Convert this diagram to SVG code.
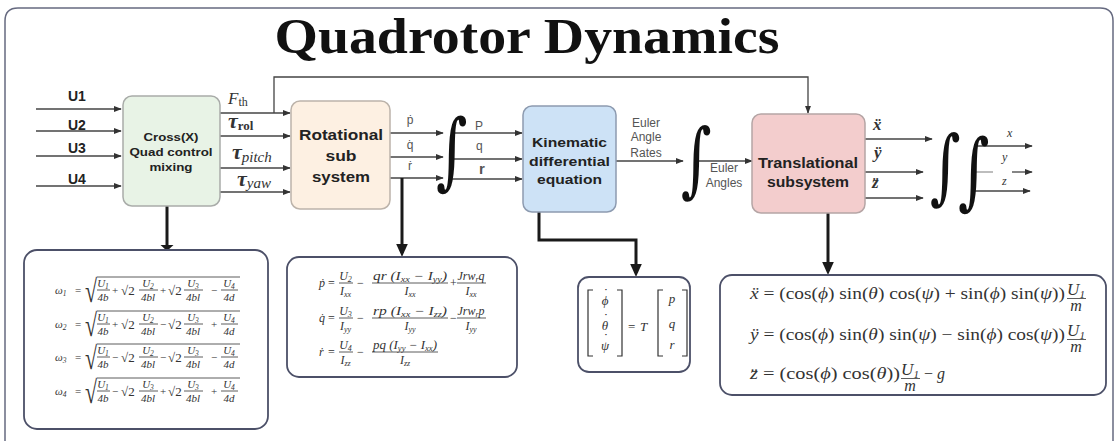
<svg xmlns="http://www.w3.org/2000/svg" width="1116" height="441" viewBox="0 0 1116 441">
<defs>
<marker id="ah" viewBox="0 0 10 10" refX="9" refY="5" markerWidth="8" markerHeight="8" markerUnits="userSpaceOnUse" orient="auto"><path d="M0,1.2 L10,5 L0,8.8 z" fill="#333"/></marker>
<marker id="ahb" viewBox="0 0 10 10" refX="7" refY="5" markerWidth="13" markerHeight="13" markerUnits="userSpaceOnUse" orient="auto"><path d="M0,0.5 L10,5 L0,9.5 z" fill="#1a1a1a"/></marker>
</defs>
<style>
.blk{font-family:"Liberation Sans",Arial,sans-serif;font-weight:bold;fill:#222;text-anchor:middle}
.lab{font-family:"Liberation Sans",Arial,sans-serif;fill:#555}
.mi{font-family:"Liberation Serif","Times New Roman",serif;font-style:italic;fill:#333}
.mr{font-family:"Liberation Serif","Times New Roman",serif;fill:#333}
.thin{stroke:#444;stroke-width:1.3;fill:none}
.thick{stroke:#1a1a1a;stroke-width:3;fill:none}
.eqbox{fill:#fff;stroke:#4c5068;stroke-width:1.8}
.bar{stroke:#333;stroke-width:0.8}
.int{font-family:"DejaVu Serif",serif;fill:#111}
.rad{font-family:"Liberation Serif","Times New Roman",serif;fill:#333;font-size:32px}
</style>
<rect width="1116" height="441" fill="#fff"/>
<path d="M5,446 L5,21 Q5,8 18,8 L1100,8 Q1113,8 1113,21 L1113,446" fill="none" stroke="#666a80" stroke-width="1.5"/>
<text x="527" y="53" font-family="Liberation Serif,'Times New Roman',serif" font-weight="bold" font-size="51" fill="#111" text-anchor="middle" textLength="505" lengthAdjust="spacingAndGlyphs">Quadrotor Dynamics</text>

<g id="connectors">
<line class="thin" x1="36" y1="109" x2="121" y2="109" marker-end="url(#ah)"/>
<line class="thin" x1="36" y1="131" x2="121" y2="131" marker-end="url(#ah)"/>
<line class="thin" x1="36" y1="156" x2="121" y2="156" marker-end="url(#ah)"/>
<line class="thin" x1="36" y1="186" x2="121" y2="186" marker-end="url(#ah)"/>
<line class="thin" x1="220" y1="113" x2="290" y2="113" marker-end="url(#ah)"/>
<line class="thin" x1="220" y1="136" x2="290" y2="136" marker-end="url(#ah)"/>
<line class="thin" x1="220" y1="168" x2="290" y2="168" marker-end="url(#ah)"/>
<line class="thin" x1="218" y1="192" x2="290" y2="192" marker-end="url(#ah)"/>
<path class="thin" d="M274,113 L274,77 L808,77 L808,113" marker-end="url(#ah)"/>
<line class="thin" x1="390" y1="133" x2="443" y2="133" marker-end="url(#ah)"/>
<line class="thin" x1="390" y1="157" x2="443" y2="157" marker-end="url(#ah)"/>
<line class="thin" x1="390" y1="178" x2="443" y2="178" marker-end="url(#ah)"/>
<line class="thin" x1="452" y1="133" x2="522" y2="133" marker-end="url(#ah)"/>
<line class="thin" x1="452" y1="159" x2="522" y2="159" marker-end="url(#ah)"/>
<line class="thin" x1="452" y1="179" x2="522" y2="179" marker-end="url(#ah)"/>
<line class="thin" x1="616" y1="161" x2="683" y2="161" marker-end="url(#ah)"/>
<line class="thin" x1="697" y1="161" x2="752" y2="161" marker-end="url(#ah)"/>
<line class="thin" x1="865" y1="139" x2="932" y2="139" marker-end="url(#ah)"/>
<line class="thin" x1="865" y1="172" x2="923" y2="172" marker-end="url(#ah)"/>
<line class="thin" x1="865" y1="198" x2="923" y2="198" marker-end="url(#ah)"/>
<line class="thin" x1="974" y1="146" x2="1032" y2="146" marker-end="url(#ah)"/>
<line x1="974" y1="172" x2="993" y2="172" stroke="#999" stroke-width="1.3"/>
<line class="thin" x1="1012" y1="172" x2="1032" y2="172" marker-end="url(#ah)"/>
<line class="thin" x1="974" y1="191" x2="1030" y2="191" marker-end="url(#ah)"/>
<line class="thick" x1="167" y1="206" x2="167" y2="246"/>
<path d="M160.5,245 L173.5,245 L167,251 z" fill="#1a1a1a"/>
<line class="thick" x1="402" y1="178" x2="402" y2="253" marker-end="url(#ahb)"/>
<path class="thick" d="M539,212 L539,240 L636,240 L636,273" marker-end="url(#ahb)"/>
<line class="thick" x1="828" y1="213" x2="828" y2="271" marker-end="url(#ahb)"/>
</g>

<g id="inputs">
<text x="68" y="101" class="blk" style="text-anchor:start" font-size="14">U1</text>
<text x="68" y="130" class="blk" style="text-anchor:start" font-size="14">U2</text>
<text x="68" y="153" class="blk" style="text-anchor:start" font-size="14">U3</text>
<text x="68" y="184" class="blk" style="text-anchor:start" font-size="14">U4</text>
</g>

<g id="cross-mixing">
<rect x="123" y="96" width="97" height="110" rx="9" fill="#e8f3e6" stroke="#a9aca9" stroke-width="1.5"/>
<text x="171" y="141" class="blk" font-size="11.5" textLength="55" lengthAdjust="spacingAndGlyphs">Cross(X)</text>
<text x="171" y="156" class="blk" font-size="11.5" textLength="83" lengthAdjust="spacingAndGlyphs">Quad control</text>
<text x="171" y="171" class="blk" font-size="11.5" textLength="43" lengthAdjust="spacingAndGlyphs">mixing</text>
</g>

<g id="torque-labels">
<text x="228" y="104" class="mi" font-size="17" fill="#222">F<tspan class="mr" font-style="normal" font-size="12" dy="2">th</tspan></text>
<text x="228" y="128" class="mi" font-size="22" font-weight="bold" fill="#222">τ<tspan class="mr" font-style="normal" font-size="13" dy="2">rol</tspan></text>
<text x="232" y="159" class="mi" font-size="22" font-weight="bold" fill="#222">τ<tspan font-size="15" font-weight="normal" dy="3">pitch</tspan></text>
<text x="237" y="186" class="mi" font-size="22" font-weight="bold" fill="#222">τ<tspan font-size="15" font-weight="normal" dy="2">yaw</tspan></text>
</g>

<g id="rotational">
<rect x="291" y="101" width="99" height="108" rx="9" fill="#fdf0e2" stroke="#bcb3aa" stroke-width="1.5"/>
<text x="341" y="140" class="blk" font-size="15" textLength="84" lengthAdjust="spacingAndGlyphs">Rotational</text>
<text x="341" y="161" class="blk" font-size="15" textLength="31" lengthAdjust="spacingAndGlyphs">sub</text>
<text x="341" y="182" class="blk" font-size="15" textLength="58" lengthAdjust="spacingAndGlyphs">system</text>
</g>

<g id="rot-labels">
<text x="410" y="124" class="lab" font-size="12" text-anchor="middle">ṗ</text>
<text x="410" y="149" class="lab" font-size="12" text-anchor="middle">q̇</text>
<text x="410" y="170" class="lab" font-size="12" text-anchor="middle">ṙ</text>
<text x="475" y="130" class="lab" font-size="12">P</text>
<text x="476" y="150" class="lab" font-size="12">q</text>
<text x="479" y="174" class="lab" font-size="15" font-weight="bold" fill="#222">r</text>
</g>

<g id="integral-1"><text class="int" font-size="84" transform="translate(436,179) scale(0.72,1)">∫</text></g>

<g id="kinematic">
<rect x="523" y="106" width="93" height="106" rx="9" fill="#cde2f6" stroke="#8d9bb0" stroke-width="1.5"/>
<text x="569.5" y="147" class="blk" font-size="13" textLength="75" lengthAdjust="spacingAndGlyphs">Kinematic</text>
<text x="569.5" y="166" class="blk" font-size="13" textLength="81" lengthAdjust="spacingAndGlyphs">differential</text>
<text x="569.5" y="184" class="blk" font-size="13" textLength="65" lengthAdjust="spacingAndGlyphs">equation</text>
</g>

<g id="euler-labels">
<text x="646" y="127" class="lab" font-size="12" text-anchor="middle">Euler</text>
<text x="646" y="141" class="lab" font-size="12" text-anchor="middle">Angle</text>
<text x="646" y="157" class="lab" font-size="12" text-anchor="middle">Rates</text>
<text x="724" y="172" class="lab" font-size="12" text-anchor="middle">Euler</text>
<text x="724" y="187" class="lab" font-size="12" text-anchor="middle">Angles</text>
</g>

<g id="integral-2"><text class="int" font-size="82" transform="translate(681,187) scale(0.72,1)">∫</text></g>

<g id="translational">
<rect x="752" y="114" width="113" height="99" rx="9" fill="#f3cdcd" stroke="#b5a5a5" stroke-width="1.5"/>
<text x="808" y="168" class="blk" font-size="14" textLength="100" lengthAdjust="spacingAndGlyphs">Translational</text>
<text x="808" y="187" class="blk" font-size="14" textLength="82" lengthAdjust="spacingAndGlyphs">subsystem</text>
</g>

<g id="trans-labels">
<text x="873" y="130" class="mi" font-size="17" font-weight="bold">ẍ</text>
<text x="874" y="158" class="mi" font-size="17" font-weight="bold">ÿ</text>
<text x="872" y="188" class="mi" font-size="17" font-weight="bold">z̈</text>
<text x="1007" y="137" class="mi" font-size="12" fill="#556">x</text>
<text x="1002" y="161" class="mi" font-size="12" fill="#556">y</text>
<text x="1002" y="185" class="mi" font-size="12" fill="#556">z</text>
</g>

<g id="integral-3"><text class="int" font-size="82" transform="translate(930,194) scale(0.72,1)">∫</text><text class="int" font-size="84" transform="translate(958,199) scale(0.72,1)">∫</text></g>

<g id="omega-equations">
<rect class="eqbox" x="24" y="250" width="244" height="179" rx="13"/>
<g font-size="11">
<!-- row 1 axis 290 -->
<text x="55" y="294" class="mi">ω<tspan font-size="7.5" dy="2">1</tspan></text>
<text x="75" y="294" class="mr">=</text>
<text x="85" y="302" class="rad" textLength="12" lengthAdjust="spacingAndGlyphs">√</text>
<line class="bar" x1="97" y1="277" x2="240" y2="277"/>
<text x="103" y="287" class="mi" text-anchor="middle">U<tspan font-size="7.5" dy="2">1</tspan></text>
<line class="bar" x1="97" y1="290" x2="110" y2="290"/>
<text x="103" y="301" class="mi" text-anchor="middle">4b</text>
<text x="112" y="294" class="mr">+</text>
<text x="121" y="295" class="mr" font-size="13">√2</text>
<text x="148" y="287" class="mi" text-anchor="middle">U<tspan font-size="7.5" dy="2">2</tspan></text>
<line class="bar" x1="139" y1="290" x2="158" y2="290"/>
<text x="148" y="301" class="mi" text-anchor="middle">4bl</text>
<text x="160" y="294" class="mr">+</text>
<text x="168" y="295" class="mr" font-size="13">√2</text>
<text x="193" y="287" class="mi" text-anchor="middle">U<tspan font-size="7.5" dy="2">3</tspan></text>
<line class="bar" x1="184" y1="290" x2="203" y2="290"/>
<text x="193" y="301" class="mi" text-anchor="middle">4bl</text>
<text x="211" y="294" class="mr">−</text>
<text x="229" y="287" class="mi" text-anchor="middle">U<tspan font-size="7.5" dy="2">4</tspan></text>
<line class="bar" x1="221" y1="290" x2="238" y2="290"/>
<text x="229" y="301" class="mi" text-anchor="middle">4d</text>
<!-- row 2 axis 324 -->
<text x="55" y="328" class="mi">ω<tspan font-size="7.5" dy="2">2</tspan></text>
<text x="75" y="328" class="mr">=</text>
<text x="85" y="336" class="rad" textLength="12" lengthAdjust="spacingAndGlyphs">√</text>
<line class="bar" x1="97" y1="311" x2="240" y2="311"/>
<text x="103" y="321" class="mi" text-anchor="middle">U<tspan font-size="7.5" dy="2">1</tspan></text>
<line class="bar" x1="97" y1="324" x2="110" y2="324"/>
<text x="103" y="335" class="mi" text-anchor="middle">4b</text>
<text x="112" y="328" class="mr">+</text>
<text x="121" y="329" class="mr" font-size="13">√2</text>
<text x="148" y="321" class="mi" text-anchor="middle">U<tspan font-size="7.5" dy="2">2</tspan></text>
<line class="bar" x1="139" y1="324" x2="158" y2="324"/>
<text x="148" y="335" class="mi" text-anchor="middle">4bl</text>
<text x="160" y="328" class="mr">−</text>
<text x="168" y="329" class="mr" font-size="13">√2</text>
<text x="193" y="321" class="mi" text-anchor="middle">U<tspan font-size="7.5" dy="2">3</tspan></text>
<line class="bar" x1="184" y1="324" x2="203" y2="324"/>
<text x="193" y="335" class="mi" text-anchor="middle">4bl</text>
<text x="211" y="328" class="mr">+</text>
<text x="229" y="321" class="mi" text-anchor="middle">U<tspan font-size="7.5" dy="2">4</tspan></text>
<line class="bar" x1="221" y1="324" x2="238" y2="324"/>
<text x="229" y="335" class="mi" text-anchor="middle">4d</text>
<!-- row 3 axis 357 -->
<text x="55" y="361" class="mi">ω<tspan font-size="7.5" dy="2">3</tspan></text>
<text x="75" y="361" class="mr">=</text>
<text x="85" y="369" class="rad" textLength="12" lengthAdjust="spacingAndGlyphs">√</text>
<line class="bar" x1="97" y1="344" x2="240" y2="344"/>
<text x="103" y="354" class="mi" text-anchor="middle">U<tspan font-size="7.5" dy="2">1</tspan></text>
<line class="bar" x1="97" y1="357" x2="110" y2="357"/>
<text x="103" y="368" class="mi" text-anchor="middle">4b</text>
<text x="112" y="361" class="mr">−</text>
<text x="121" y="362" class="mr" font-size="13">√2</text>
<text x="148" y="354" class="mi" text-anchor="middle">U<tspan font-size="7.5" dy="2">2</tspan></text>
<line class="bar" x1="139" y1="357" x2="158" y2="357"/>
<text x="148" y="368" class="mi" text-anchor="middle">4bl</text>
<text x="160" y="361" class="mr">−</text>
<text x="168" y="362" class="mr" font-size="13">√2</text>
<text x="193" y="354" class="mi" text-anchor="middle">U<tspan font-size="7.5" dy="2">3</tspan></text>
<line class="bar" x1="184" y1="357" x2="203" y2="357"/>
<text x="193" y="368" class="mi" text-anchor="middle">4bl</text>
<text x="211" y="361" class="mr">−</text>
<text x="229" y="354" class="mi" text-anchor="middle">U<tspan font-size="7.5" dy="2">4</tspan></text>
<line class="bar" x1="221" y1="357" x2="238" y2="357"/>
<text x="229" y="368" class="mi" text-anchor="middle">4d</text>
<!-- row 4 axis 391 -->
<text x="55" y="395" class="mi">ω<tspan font-size="7.5" dy="2">4</tspan></text>
<text x="75" y="395" class="mr">=</text>
<text x="85" y="403" class="rad" textLength="12" lengthAdjust="spacingAndGlyphs">√</text>
<line class="bar" x1="97" y1="378" x2="240" y2="378"/>
<text x="103" y="388" class="mi" text-anchor="middle">U<tspan font-size="7.5" dy="2">1</tspan></text>
<line class="bar" x1="97" y1="391" x2="110" y2="391"/>
<text x="103" y="402" class="mi" text-anchor="middle">4b</text>
<text x="112" y="395" class="mr">−</text>
<text x="121" y="396" class="mr" font-size="13">√2</text>
<text x="148" y="388" class="mi" text-anchor="middle">U<tspan font-size="7.5" dy="2">3</tspan></text>
<line class="bar" x1="139" y1="391" x2="158" y2="391"/>
<text x="148" y="402" class="mi" text-anchor="middle">4bl</text>
<text x="160" y="395" class="mr">+</text>
<text x="168" y="396" class="mr" font-size="13">√2</text>
<text x="193" y="388" class="mi" text-anchor="middle">U<tspan font-size="7.5" dy="2">3</tspan></text>
<line class="bar" x1="184" y1="391" x2="203" y2="391"/>
<text x="193" y="402" class="mi" text-anchor="middle">4bl</text>
<text x="211" y="395" class="mr">+</text>
<text x="229" y="388" class="mi" text-anchor="middle">U<tspan font-size="7.5" dy="2">4</tspan></text>
<line class="bar" x1="221" y1="391" x2="238" y2="391"/>
<text x="229" y="402" class="mi" text-anchor="middle">4d</text>
</g>
</g>

<g id="rotational-equations">
<rect class="eqbox" x="287" y="257" width="230" height="120" rx="12"/>
<g font-size="12">
<text x="319" y="287" class="mi">ṗ</text><text x="328" y="287" class="mr">=</text>
<text x="345.5" y="280" class="mi" text-anchor="middle">U<tspan font-size="8" dy="2">2</tspan></text>
<line class="bar" x1="339" y1="283" x2="353" y2="283"/>
<text x="345.5" y="295" class="mi" text-anchor="middle">I<tspan font-size="8" dy="2">xx</tspan></text>
<text x="357" y="287" class="mr">−</text>
<text x="373" y="280" class="mi" textLength="74" lengthAdjust="spacingAndGlyphs">qr (I<tspan font-size="8" dy="2">xx</tspan><tspan dy="-2"> − I</tspan><tspan font-size="8" dy="2">yy</tspan><tspan dy="-2">)</tspan></text>
<line class="bar" x1="372" y1="283" x2="448" y2="283"/>
<text x="410" y="295" class="mi" text-anchor="middle">I<tspan font-size="8" dy="2">xx</tspan></text>
<text x="450" y="287" class="mr">+</text>
<text x="471" y="280" class="mi" text-anchor="middle">Jrw<tspan font-size="8" dy="2">r</tspan><tspan dy="-2">q</tspan></text>
<line class="bar" x1="457" y1="283" x2="486" y2="283"/>
<text x="471" y="295" class="mi" text-anchor="middle">I<tspan font-size="8" dy="2">xx</tspan></text>
<text x="319" y="322" class="mi">q̇</text><text x="328" y="322" class="mr">=</text>
<text x="345.5" y="315" class="mi" text-anchor="middle">U<tspan font-size="8" dy="2">3</tspan></text>
<line class="bar" x1="339" y1="318" x2="353" y2="318"/>
<text x="345.5" y="330" class="mi" text-anchor="middle">I<tspan font-size="8" dy="2">yy</tspan></text>
<text x="357" y="322" class="mr">−</text>
<text x="373" y="315" class="mi" textLength="74" lengthAdjust="spacingAndGlyphs">rp (I<tspan font-size="8" dy="2">xx</tspan><tspan dy="-2"> − I</tspan><tspan font-size="8" dy="2">zz</tspan><tspan dy="-2">)</tspan></text>
<line class="bar" x1="372" y1="318" x2="448" y2="318"/>
<text x="410" y="330" class="mi" text-anchor="middle">I<tspan font-size="8" dy="2">yy</tspan></text>
<text x="450" y="322" class="mr">−</text>
<text x="471" y="315" class="mi" text-anchor="middle">Jrw<tspan font-size="8" dy="2">r</tspan><tspan dy="-2">p</tspan></text>
<line class="bar" x1="457" y1="318" x2="486" y2="318"/>
<text x="471" y="330" class="mi" text-anchor="middle">I<tspan font-size="8" dy="2">yy</tspan></text>
<text x="319" y="356" class="mi">ṙ</text><text x="328" y="356" class="mr">=</text>
<text x="345.5" y="349" class="mi" text-anchor="middle">U<tspan font-size="8" dy="2">4</tspan></text>
<line class="bar" x1="339" y1="352" x2="353" y2="352"/>
<text x="345.5" y="364" class="mi" text-anchor="middle">I<tspan font-size="8" dy="2">zz</tspan></text>
<text x="357" y="356" class="mr">−</text>
<text x="373" y="349" class="mi" textLength="64" lengthAdjust="spacingAndGlyphs">pq (I<tspan font-size="8" dy="2">yy</tspan><tspan dy="-2"> − I</tspan><tspan font-size="8" dy="2">xx</tspan><tspan dy="-2">)</tspan></text>
<line class="bar" x1="372" y1="352" x2="438" y2="352"/>
<text x="405" y="364" class="mi" text-anchor="middle">I<tspan font-size="8" dy="2">zz</tspan></text>
</g>
</g>

<g id="kinematic-equation">
<rect class="eqbox" x="578" y="277" width="112" height="95" rx="11"/>
<g fill="none" stroke="#333" stroke-width="1.2">
<path d="M593,290 L588,290 L588,356 L593,356"/>
<path d="M617,290 L622,290 L622,356 L617,356"/>
<path d="M663,290 L658,290 L658,356 L663,356"/>
<path d="M682,290 L687,290 L687,356 L682,356"/>
</g>
<g font-size="13">
<text x="605" y="305" class="mi" text-anchor="middle">ϕ</text><text x="606" y="297" class="mr" text-anchor="middle">˙</text>
<text x="605" y="330" class="mi" text-anchor="middle">θ</text><text x="606" y="322" class="mr" text-anchor="middle">˙</text>
<text x="605" y="350" class="mi" text-anchor="middle">ψ</text><text x="606" y="342" class="mr" text-anchor="middle">˙</text>
<text x="628" y="331" class="mr">=</text>
<text x="640" y="331" class="mi">T</text>
<text x="672" y="303" class="mi" text-anchor="middle">p</text>
<text x="672" y="328" class="mi" text-anchor="middle">q</text>
<text x="672" y="349" class="mi" text-anchor="middle">r</text>
</g>
</g>

<g id="translational-equations">
<rect class="eqbox" x="720" y="275" width="386" height="120" rx="12"/>
<g font-size="16">
<text x="750" y="299" class="mr" textLength="315" lengthAdjust="spacingAndGlyphs"><tspan font-style="italic">ẍ</tspan> = (cos(<tspan font-style="italic">ϕ</tspan>) sin(<tspan font-style="italic">θ</tspan>) cos(<tspan font-style="italic">ψ</tspan>) + sin(<tspan font-style="italic">ϕ</tspan>) sin(<tspan font-style="italic">ψ</tspan>))</text>
<text x="1076" y="295" class="mi" text-anchor="middle" font-size="17">U<tspan font-size="11" dy="3">1</tspan></text>
<line class="bar" x1="1067" y1="298.5" x2="1086" y2="298.5"/>
<text x="1076" y="311" class="mi" text-anchor="middle">m</text>
<text x="750" y="340" class="mr" textLength="315" lengthAdjust="spacingAndGlyphs"><tspan font-style="italic">ÿ</tspan> = (cos(<tspan font-style="italic">ϕ</tspan>) sin(<tspan font-style="italic">θ</tspan>) sin(<tspan font-style="italic">ψ</tspan>) − sin(<tspan font-style="italic">ϕ</tspan>) cos(<tspan font-style="italic">ψ</tspan>))</text>
<text x="1076" y="336" class="mi" text-anchor="middle" font-size="17">U<tspan font-size="11" dy="3">1</tspan></text>
<line class="bar" x1="1067" y1="339.5" x2="1086" y2="339.5"/>
<text x="1076" y="352" class="mi" text-anchor="middle">m</text>
<text x="750" y="379" class="mr" textLength="150" lengthAdjust="spacingAndGlyphs"><tspan font-style="italic">z̈</tspan> = (cos(<tspan font-style="italic">ϕ</tspan>) cos(<tspan font-style="italic">θ</tspan>))</text>
<text x="910" y="375" class="mi" text-anchor="middle" font-size="17">U<tspan font-size="11" dy="3">1</tspan></text>
<line class="bar" x1="901" y1="378.5" x2="920" y2="378.5"/>
<text x="910" y="391" class="mi" text-anchor="middle">m</text>
<text x="924" y="379" class="mr">− <tspan font-style="italic">g</tspan></text>
</g>
</g>
</svg>
